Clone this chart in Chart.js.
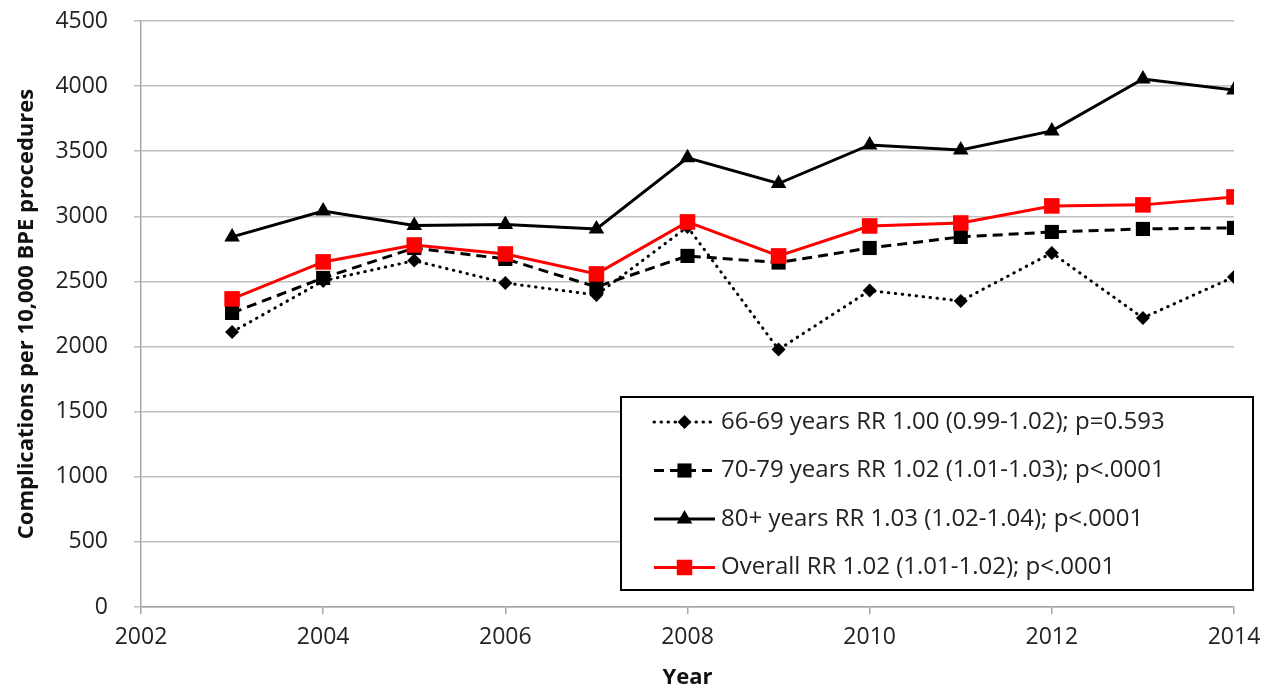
<!DOCTYPE html>
<html>
<head>
<meta charset="utf-8">
<script src="https://cdn.jsdelivr.net/npm/chart.js@4.4.1/dist/chart.umd.min.js"></script>
<style>
  html, body { margin: 0; padding: 0; background: #fff; }
  #wrap { width: 1274px; height: 691px; }
</style>
</head>
<body>
<div id="wrap"><canvas id="chart" width="1274" height="691"></canvas></div>
<script>
// data
var years = [2003, 2004, 2005, 2006, 2007, 2008, 2009, 2010, 2011, 2012, 2013, 2014];
var age6669 = [2112, 2504, 2660, 2488, 2396, 2919, 1978, 2430, 2350, 2719, 2220, 2535];
var age7079 = [2258, 2527, 2757, 2673, 2458, 2696, 2645, 2757, 2842, 2880, 2903, 2911];
var age80 = [2842, 3041, 2930, 2938, 2903, 3449, 3252, 3548, 3510, 3656, 4055, 3971];
var overall = [2366, 2650, 2780, 2711, 2558, 2957, 2696, 2926, 2949, 3080, 3088, 3149];
var labels = [
  '66-69 years RR 1.00 (0.99-1.02); p=0.593',
  '70-79 years RR 1.02 (1.01-1.03); p<.0001',
  '80+ years RR 1.03 (1.02-1.04); p<.0001',
  'Overall RR 1.02 (1.01-1.02); p<.0001'
];
var xTicks = [2002, 2004, 2006, 2008, 2010, 2012, 2014];
var yTicks = [0, 500, 1000, 1500, 2000, 2500, 3000, 3500, 4000, 4500];

var FONT = '"Open Sans", "Noto Sans", sans-serif';

function pts(vals) {
  return vals.map(function (v, i) { return { x: years[i], y: v }; });
}

// draw one marker (used for the legend box)
function marker(ctx, style, x, y, r, color) {
  ctx.save();
  ctx.fillStyle = color;
  ctx.setLineDash([]);
  ctx.beginPath();
  if (style === 'rectRot') {
    ctx.moveTo(x, y - r); ctx.lineTo(x + r, y); ctx.lineTo(x, y + r); ctx.lineTo(x - r, y);
  } else if (style === 'triangle') {
    var h = r * 1.5, w = r * Math.sqrt(3) / 2;
    ctx.moveTo(x, y - r); ctx.lineTo(x + w, y + h - r); ctx.lineTo(x - w, y + h - r);
  } else {
    var s = r * Math.SQRT1_2;
    ctx.rect(x - s, y - s, 2 * s, 2 * s);
  }
  ctx.closePath();
  ctx.fill();
  ctx.restore();
}

// legend box inside the plot, lower right
var boxLegend = {
  id: 'boxLegend',
  afterDraw: function (chart) {
    var ctx = chart.ctx;
    var left = 621, top = 397, right = 1253, bottom = 590;
    ctx.save();
    ctx.fillStyle = '#fff';
    ctx.fillRect(left, top, right - left, bottom - top);
    ctx.strokeStyle = '#000';
    ctx.lineWidth = 2;
    ctx.strokeRect(left, top, right - left, bottom - top);
    chart.data.datasets.forEach(function (ds, i) {
      var y = 422 + i * 48.5;
      ctx.strokeStyle = ds.borderColor;
      ctx.lineWidth = ds.borderWidth;
      ctx.lineCap = ds.borderCapStyle || 'butt';
      ctx.setLineDash(ds.borderDash || []);
      ctx.beginPath();
      ctx.moveTo(654, y);
      ctx.lineTo(715, y);
      ctx.stroke();
      marker(ctx, ds.pointStyle, 684.5, y, ds.pointRadius, ds.pointBackgroundColor);
      ctx.fillStyle = '#222';
      ctx.font = '24px ' + FONT;
      ctx.textBaseline = 'middle';
      ctx.textAlign = 'left';
      ctx.fillText(ds.label, 721, y);
    });
    ctx.restore();
  }
};

new Chart(document.getElementById('chart'), {
  type: 'line',
  data: {
    datasets: [
      {
        label: labels[0], data: pts(age6669), order: 3,
        borderColor: '#000', borderWidth: 3, borderDash: [0.5, 6.5], borderCapStyle: 'round',
        pointStyle: 'rectRot', pointRadius: 7, pointBackgroundColor: '#000', pointBorderWidth: 0
      },
      {
        label: labels[1], data: pts(age7079), order: 2,
        borderColor: '#000', borderWidth: 3, borderDash: [10, 6],
        pointStyle: 'rect', pointRadius: 10, pointBackgroundColor: '#000', pointBorderWidth: 0
      },
      {
        label: labels[2], data: pts(age80), order: 1,
        borderColor: '#000', borderWidth: 3,
        pointStyle: 'triangle', pointRadius: 9, pointBackgroundColor: '#000', pointBorderWidth: 0
      },
      {
        label: labels[3], data: pts(overall), order: 0,
        borderColor: '#ff0000', borderWidth: 3,
        pointStyle: 'rect', pointRadius: 11, pointBackgroundColor: '#ff0000', pointBorderWidth: 0
      }
    ]
  },
  options: {
    responsive: false,
    animation: false,
    layout: { padding: { top: 21, right: 40, left: 0, bottom: 0 } },
    plugins: {
      legend: { display: false },
      tooltip: { enabled: false }
    },
    elements: { line: { tension: 0, fill: false } },
    scales: {
      x: {
        type: 'linear',
        min: 2002, max: 2014,
        afterFit: function (s) { s.height = 84; },
        afterBuildTicks: function (s) { s.ticks = xTicks.map(function (v) { return { value: v }; }); },
        grid: { drawOnChartArea: false, drawTicks: true, tickLength: 7, color: '#a6a6a6', lineWidth: 1.5 },
        border: { color: '#a6a6a6', width: 1.5 },
        ticks: {
          padding: 10, color: '#222', maxRotation: 0, autoSkip: false,
          font: { family: FONT, size: 23 },
          callback: function (v) { return String(v); }
        },
        title: {
          display: true, text: 'Year', color: '#111',
          font: { family: FONT, size: 22, weight: 'bold' },
          padding: { top: 0, bottom: 0 }
        }
      },
      y: {
        min: 0, max: 4500,
        afterFit: function (s) { s.width = 141; s.paddingTop = 0; s.paddingBottom = 0; },
        afterBuildTicks: function (s) { s.ticks = yTicks.map(function (v) { return { value: v }; }); },
        grid: { color: '#bfbfbf', lineWidth: 1.5, tickLength: 7, drawTicks: true },
        border: { color: '#a6a6a6', width: 1.5 },
        ticks: {
          padding: 26, color: '#222', autoSkip: false,
          font: { family: FONT, size: 23 },
          callback: function (v) { return String(v); }
        },
        title: {
          display: true, text: 'Complications per 10,000 BPE procedures', color: '#111',
          font: { family: FONT, size: 22, weight: 'bold' },
          padding: { top: 14, bottom: 0 }
        }
      }
    }
  },
  plugins: [boxLegend]
});
</script>
</body>
</html>
